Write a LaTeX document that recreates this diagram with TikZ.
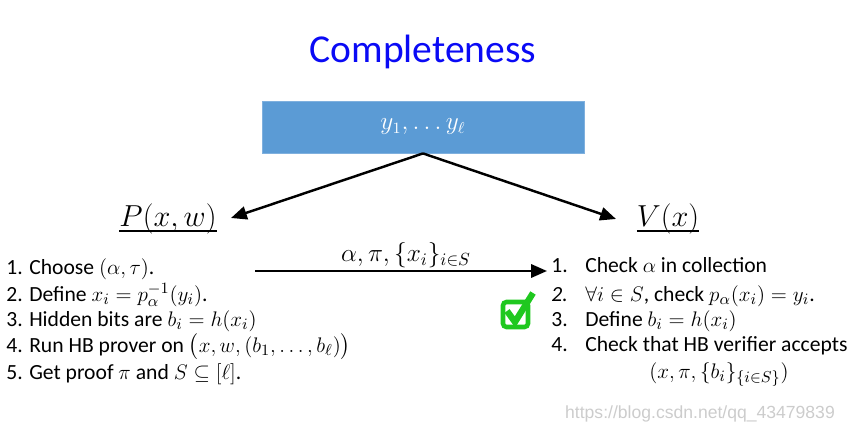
\documentclass[tikz,border=0pt]{standalone}
\usepackage{amsmath,amssymb}
\usepackage{fontspec}
\setmainfont{Carlito}
\newfontfamily\markfont{Liberation Sans}
\usetikzlibrary{arrows.meta,positioning}
\definecolor{cmplBlue}{HTML}{5B9BD5}
\definecolor{cmplEdge}{HTML}{7FB0DE}
\definecolor{cmplTitle}{HTML}{0A0AF5}
\definecolor{cmplGreen}{HTML}{1FC81F}

\tikzset{
  msgarrow/.style={line width=1.4pt,-{Triangle[length=9pt,width=7.5pt]}},
  listline/.style={anchor=base west,inner sep=0pt},
  partyname/.style={font=\fontsize{16.5}{18}\selectfont,anchor=base,inner sep=0pt},
}

\begin{document}
\begin{tikzpicture}[x=0.02cm,y=-0.02cm,font=\fontsize{12.3}{14}\selectfont]
  \useasboundingbox (0,0) rectangle (852,432);

  % title and common string
  \node[text=cmplTitle,font=\fontsize{22.5}{26}\selectfont] (title) at (423,52) {Completeness};
  \node[fill=cmplBlue,draw=cmplEdge,line width=0.5pt,minimum width=6.44cm,minimum height=1.04cm,
        text=white,font=\fontsize{13.5}{15}\selectfont] (data) at (423,127) {$y_1,\ldots y_\ell$};

  % parties
  \node[partyname] (prover) at (168,227) {$\underline{\smash[b]{P(x,w)}}$};
  \node[partyname] (verifier) at (668,227) {$\underline{\smash[b]{V(x)}}$};
  \coordinate (ptip) at (231,218);
  \coordinate (vtip) at (616,219);
  \draw[msgarrow] (data.south) -- (ptip);
  \draw[msgarrow] (data.south) -- (vtip);

  % prover steps
  \node[listline] (p1) at (6,275) {1. Choose $(\alpha,\tau)$.};
  \node[listline] (p2) at (6,301) {2. Define $x_i = \smash{p_\alpha^{-1}}(y_i)$.};
  \node[listline] (p3) at (6,326) {3. Hidden bits are $b_i = h(x_i)$};
  \node[listline] (p4) at (6,352) {4. Run HB prover on $\bigl(x,w,(b_1,\ldots,b_\ell)\bigr)$};
  \node[listline] (p5) at (6,379) {5. Get proof $\pi$ and $S\subseteq[\ell]$.};

  % message
  \coordinate (msgstart) at (255,271);
  \coordinate (msgend) at (547,271);
  \draw[msgarrow] (msgstart) -- (msgend);
  \node[anchor=base,inner sep=0pt,font=\fontsize{14}{16}\selectfont] (msg) at (406,262)
    {$\alpha,\pi,\{x_i\}_{i\in S}$};

  % verifier steps
  \node[listline] (vn1) at (551,273) {1.};
  \node[listline] (v1) at (585,273) {Check $\alpha$ in collection};
  \node[listline] (vn2) at (551,301) {\textit{2.}};
  \node[listline] (v2) at (585,301) {$\forall i\in S$, check $p_\alpha(x_i) = y_i$.};
  \node[listline] (vn3) at (551,326) {3.};
  \node[listline] (v3) at (585,326) {Define $b_i = h(x_i)$};
  \node[listline] (vn4) at (551,351) {4.};
  \node[listline] (v4) at (585,351) {Check that HB verifier accepts};
  \node[anchor=base,inner sep=0pt] (v5) at (719,378) {$(x,\pi,\{b_i\}_{\{i\in S\}})$};

  % check mark
  \draw[cmplGreen,line width=2.6pt,rounded corners=2pt] (503,302) rectangle (528,327);
  \draw[cmplGreen,line width=3.6pt] (507,311) -- (515,322) -- (533,293);

  \node[anchor=base east,text=gray!40,font=\markfont\fontsize{10}{12}\selectfont] (mark) at (841,418)
    {https://blog.csdn.net/qq\_43479839};
\end{tikzpicture}
\end{document}
